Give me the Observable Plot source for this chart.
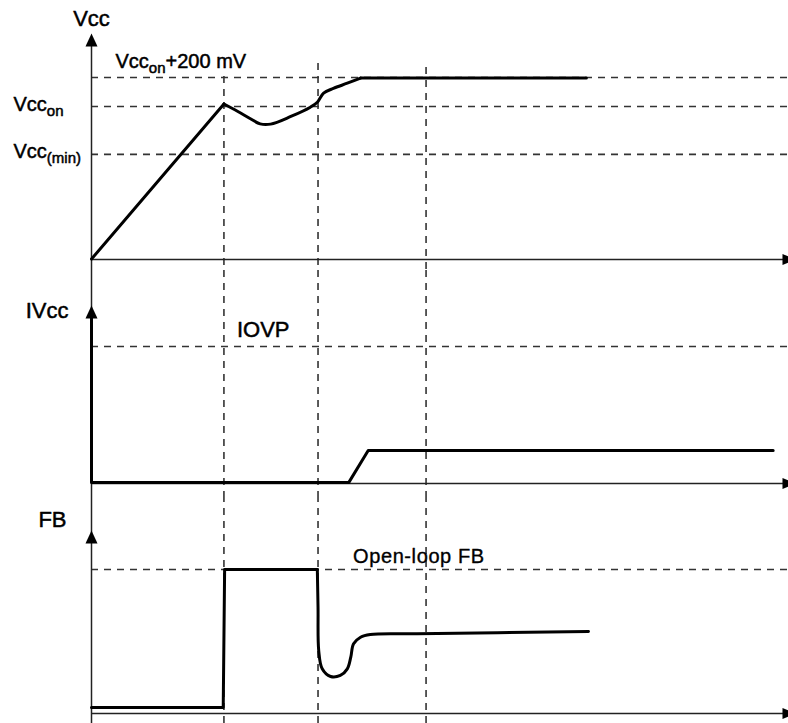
<!DOCTYPE html>
<html>
<head>
<meta charset="utf-8">
<script src="https://cdn.jsdelivr.net/npm/d3@7"></script>
<script src="https://cdn.jsdelivr.net/npm/@observablehq/plot@0.6"></script>
<style>
  body { margin: 0; background: #fff; }
  #chart svg { display: block; background: #fff; }
</style>
</head>
<body>
<div id="chart"></div>
<script>
// ---------- data (time in arbitrary units 0..100, each panel level 0..100) ----------
const timeMarks = [19.0, 32.5, 48.0];          // vertical dashed event lines
const timeMarkTops = [81.0, 86.7, 85.0];       // where they start in the Vcc panel

const vccLevelNames = ["Vcc{on}+200 mV", "Vcc{on}", "Vcc{(min)}"];
const vccLevels = [80.5, 67.7, 46.5];
const vccRampTime  = [0, 19.0];
const vccRampValue = [0.2, 68.8];
const vccCurveTime  = [19.0, 21.0, 22.8, 24.2, 25.7, 28.6, 31.4, 32.4, 33.3, 34.7, 36.7, 38.6];
const vccCurveValue = [68.8, 65.5, 62.3, 60.0, 59.9, 63.3, 67.4, 69.6, 73.6, 75.7, 78.0, 80.3];
const vccFlatTime  = [38.6, 71.0];
const vccFlatValue = [80.3, 80.3];

const ivccLevelNames = ["IOVP"];
const ivccLevels = [77.0];
const ivccTime  = [0, 0, 36.9, 39.7, 97.8];
const ivccValue = [93, 0.5, 0.5, 18.5, 18.5];

const fbLevelNames = ["Open-loop FB"];
const fbLevels = [78.7];
const fbStepTime  = [0, 18.9, 19.1, 32.4];
const fbStepValue = [3.3, 3.3, 78.7, 78.7];
const fbRecTime  = [32.4, 32.5, 32.6, 33.1, 34.3, 35.7, 36.7, 37.2, 37.6, 38.6, 40.0, 46.7, 71.3];
const fbRecValue = [78.7, 58.1, 34.4, 24.4, 20.2, 20.8, 24.4, 30.8, 38.1, 41.7, 43.2, 43.6, 44.8];

const panelTitles = ["Vcc", "IVcc", "FB"];

// ---------- styles ----------
const FONT = "'Liberation Sans', Arial, Helvetica, sans-serif";
const upHead = {draw(ctx) { ctx.moveTo(0, 0); ctx.lineTo(6, 13); ctx.lineTo(-6, 13); ctx.closePath(); }};
const rightHead = {draw(ctx) { ctx.moveTo(0, 0); ctx.lineTo(-13, -5.5); ctx.lineTo(-13, 5.5); ctx.closePath(); }};
const dash = {stroke: "#333", strokeWidth: 1.6, strokeDasharray: "7,6"};
const axisStyle = {stroke: "#222", strokeWidth: 1.5};
const trace = {stroke: "#000", strokeWidth: 3, strokeLinejoin: "round"};
const label = {fontFamily: FONT, fontSize: 20, fill: "#000", stroke: "#000", strokeWidth: 0.5, lineAnchor: "middle"};

const pts = (xs, ys) => xs.map((x, i) => ({t: x, v: ys[i]}));

function axes(fullHeight) {
  return [
    fullHeight
      ? Plot.ruleX([{t: 0}], {x: "t", ...axisStyle})
      : Plot.ruleX([{t: 0, a: 95, b: -6}], {x: "t", y1: "a", y2: "b", ...axisStyle}),
    Plot.ruleY([{v: 0}], {y: "v", x1: () => 0, x2: () => 100, ...axisStyle}),
    Plot.dot([{t: 0, v: 100}], {x: "t", y: "v", symbol: upHead, fill: "#000", stroke: "none"}),
    Plot.dot([{t: 101, v: 0}], {x: "t", y: "v", symbol: rightHead, fill: "#000", stroke: "none"})
  ];
}

function levelRules(levels) {
  return Plot.ruleY(levels, {y: d => d, x1: () => 0, x2: () => 100, ...dash});
}

function panel(height, yRange, marks) {
  return Plot.plot({
    width: 788, height,
    marginLeft: 91, marginRight: 0, marginTop: 0, marginBottom: 0,
    x: {domain: [0, 100], axis: null},
    y: {domain: [0, 100], range: yRange, axis: null},
    marks
  });
}

function polishText(svg) {
  d3.select(svg).selectAll("text").each(function() {
    const s = this.textContent;
    if (s === fbLevelNames[0]) d3.select(this).attr("letter-spacing", 0.6);
    const m = s.match(/^(.*?)\{(.*?)\}(.*)$/);
    if (!m) return;
    const t = d3.select(this);
    t.text(null);
    t.append("tspan").text(m[1]);
    t.append("tspan").attr("font-size", 15).attr("dy", 5).text(m[2]);
    if (m[3]) t.append("tspan").attr("dy", -5).text(m[3]);
  });
  return svg;
}

// ---------- panel 1: Vcc ----------
const p1 = panel(270, [259, 33], [
  levelRules(vccLevels),
  Plot.ruleX(timeMarks, {x: d => d, y1: (d, i) => timeMarkTops[i], y2: () => -6, ...dash}),
  ...axes(false),
  Plot.line(pts(vccRampTime, vccRampValue), {x: "t", y: "v", ...trace}),
  Plot.line(pts(vccCurveTime, vccCurveValue), {x: "t", y: "v", curve: "catmull-rom", ...trace}),
  Plot.line(pts(vccFlatTime, vccFlatValue), {x: "t", y: "v", ...trace}),
  Plot.text([panelTitles[0]], {text: d => d, x: () => 0, y: () => 100, dy: -15, textAnchor: "middle", ...label, fontSize: 22}),
  Plot.text([vccLevelNames[0]], {text: d => d, x: () => 0, y: () => vccLevels[0], dx: 24, dy: -16, textAnchor: "start", ...label}),
  Plot.text([vccLevelNames[1]], {text: d => d, x: () => 0, y: () => vccLevels[1], dx: -78, dy: -2, textAnchor: "start", ...label}),
  Plot.text([vccLevelNames[2]], {text: d => d, x: () => 0, y: () => vccLevels[2], dx: -78, dy: -3, textAnchor: "start", ...label})
]);

// ---------- panel 2: IVcc ----------
const p2 = panel(225, [213, 35], [
  levelRules(ivccLevels),
  Plot.ruleX(timeMarks, {x: d => d, ...dash}),
  ...axes(true),
  Plot.line(pts(ivccTime, ivccValue), {x: "t", y: "v", ...trace}),
  Plot.text([panelTitles[1]], {text: d => d, x: () => 0, y: () => 100, dx: -23, dy: 5, textAnchor: "end", ...label, fontSize: 22}),
  Plot.text(ivccLevelNames, {text: d => d, x: () => timeMarks[0], y: (d, i) => ivccLevels[i], dx: 13, dy: -16, textAnchor: "start", ...label, fontSize: 22})
]);

// ---------- panel 3: FB ----------
const p3 = panel(228, [218, 35], [
  levelRules(fbLevels),
  Plot.ruleX(timeMarks, {x: d => d, ...dash}),
  ...axes(true),
  Plot.line(pts(fbStepTime, fbStepValue), {x: "t", y: "v", ...trace}),
  Plot.line(pts(fbRecTime, fbRecValue), {x: "t", y: "v", curve: "catmull-rom", ...trace}),
  Plot.text([panelTitles[2]], {text: d => d, x: () => 0, y: () => 100, dx: -25, dy: -10.5, textAnchor: "end", ...label, fontSize: 22}),
  Plot.text(fbLevelNames, {text: d => d, x: () => timeMarks[1], y: (d, i) => fbLevels[i], dx: 35, dy: -12.5, textAnchor: "start", ...label, fontSize: 20, strokeWidth: 0.35})
]);

const chart = document.getElementById("chart");
[p1, p2, p3].forEach(svg => chart.appendChild(polishText(svg)));
</script>
</body>
</html>
